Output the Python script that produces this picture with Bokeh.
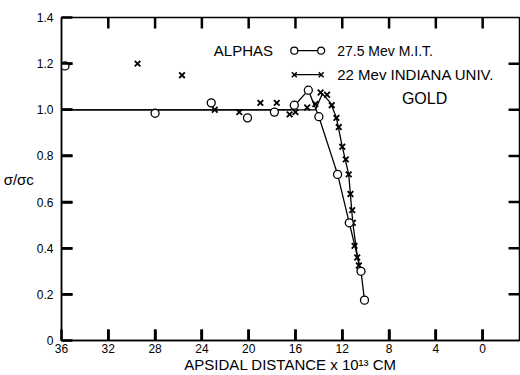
from bokeh.plotting import figure
from bokeh.models import Range1d, FixedTicker, Label
from bokeh.embed import file_html
from bokeh.resources import INLINE

# ---- data ----
x_ticks = [36, 32, 28, 24, 20, 16, 12, 8, 4, 0]
y_ticks = [0, 0.2, 0.4, 0.6, 0.8, 1.0, 1.2, 1.4]
y_tick_labels = ["0", "0.2", "0.4", "0.6", "0.8", "1.0", "1.2", "1.4"]

mit_x = [35.7, 28.0, 23.2, 20.1, 17.8, 16.1, 14.9, 14.0, 12.4, 11.4, 10.4, 10.1]
mit_y = [1.19, 0.985, 1.03, 0.965, 0.99, 1.02, 1.085, 0.97, 0.72, 0.51, 0.30, 0.175]

ind_x = [29.5, 25.7, 22.9, 20.8, 19.0, 17.6, 16.5, 16.0, 15.0, 14.3, 13.85, 13.3,
         12.9, 12.5, 12.3, 12.0, 11.7, 11.45, 11.3, 11.15, 11.1, 10.95, 10.72, 10.58, 10.44]
ind_y = [1.2, 1.15, 1.0, 0.99, 1.03, 1.03, 0.98, 0.99, 1.01, 1.025, 1.075, 1.065,
         1.02, 0.965, 0.925, 0.84, 0.785, 0.72, 0.635, 0.565, 0.51, 0.41, 0.36, 0.325, 0.30]

# hand-drawn curves through the data
mit_curve_x = [36, 16.4, 14.9, 14.0, 12.4, 11.4, 10.4, 10.1]
mit_curve_y = [1.0, 1.0, 1.085, 0.97, 0.72, 0.51, 0.30, 0.175]
ind_curve_x = [36, 14.3, 13.7, 13.0, 12.5, 12.0, 11.45, 11.1, 10.7, 10.44]
ind_curve_y = [1.0, 1.0, 1.07, 1.03, 0.965, 0.84, 0.72, 0.51, 0.36, 0.30]

X_START, X_END = 36, -3.15
Y_START, Y_END = 0, 1.4

FONT = "Liberation Sans"
W, H = 520, 375
BL, BR, BT, BB = 59, 1, 17, 34
FRAME_W, FRAME_H = W - BL - BR, H - BT - BB
TICK_PX = 11

p = figure(width=W, height=H, x_range=Range1d(X_START, X_END), y_range=Range1d(Y_START, Y_END),
           output_backend="svg", toolbar_location=None,
           min_border_left=BL, min_border_right=BR, min_border_top=BT, min_border_bottom=BB)
p.xgrid.grid_line_color = None
p.ygrid.grid_line_color = None
p.outline_line_color = "black"
p.outline_line_width = 1.5

for ax in (p.xaxis[0], p.yaxis[0]):
    ax.axis_line_color = "black"
    ax.axis_line_width = 1.5
    ax.major_tick_in = TICK_PX
    ax.major_tick_out = 0
    ax.major_tick_line_color = "black"
    ax.major_tick_line_width = 2.5
    ax.minor_tick_line_color = None
    ax.major_label_text_font = FONT
    ax.major_label_text_font_size = "12px"
    ax.major_label_text_color = "black"
    ax.axis_label_text_font = FONT
    ax.axis_label_text_font_style = "normal"
    ax.axis_label_text_color = "black"
    ax.axis_label_standoff = 0

xa = p.xaxis[0]
xa.ticker = FixedTicker(ticks=x_ticks)
xa.major_label_standoff = 3
xa.axis_label = "APSIDAL DISTANCE x 10¹³ CM"
xa.axis_label_text_font_size = "15px"

ya = p.yaxis[0]
ya.ticker = FixedTicker(ticks=y_ticks)
ya.major_label_standoff = 8
ya.major_label_overrides = {t: s for t, s in zip(y_ticks, y_tick_labels)}
ya.axis_label = "σ/σc"
ya.axis_label_orientation = "horizontal"
ya.axis_label_text_font_size = "15px"

# inward tick marks on all four sides, as segments reaching TICK_PX into the frame
dy = TICK_PX * (Y_END - Y_START) / FRAME_H
dx = TICK_PX * (X_START - X_END) / FRAME_W
xt = x_ticks[1:]
yt = y_ticks[1:-1]
seg_kw = dict(line_color="black", line_width=2.5)
p.segment(x0=xt, y0=[Y_START] * len(xt), x1=xt, y1=[Y_START + dy] * len(xt), **seg_kw)
p.segment(x0=xt, y0=[Y_END] * len(xt), x1=xt, y1=[Y_END - dy] * len(xt), **seg_kw)
p.segment(x0=[X_START] * len(yt), y0=yt, x1=[X_START - dx] * len(yt), y1=yt, **seg_kw)
p.segment(x0=[X_END] * len(yt), y0=yt, x1=[X_END + dx] * len(yt), y1=yt, **seg_kw)

# curves
p.line(mit_curve_x, mit_curve_y, line_color="black", line_width=1.3)
p.line(ind_curve_x, ind_curve_y, line_color="black", line_width=1.3)

# points
p.scatter(ind_x, ind_y, marker="x", size=8, line_color="black", line_width=1.8)
p.scatter(mit_x, mit_y, marker="circle", size=8, fill_color="white",
          line_color="black", line_width=1.3)

# legend (drawn)
leg_x = [16.1, 13.8]
p.line(leg_x, [1.256, 1.256], line_color="black", line_width=1.2)
p.scatter(leg_x, [1.256, 1.256], marker="circle", size=7, fill_color="white",
          line_color="black", line_width=1.2)
p.line(leg_x, [1.152, 1.152], line_color="black", line_width=1.2)
p.scatter(leg_x, [1.152, 1.152], marker="x", size=7, line_color="black", line_width=1.5)


def lab(x, y, text, size, align="left", baseline="middle", font=FONT):
    p.add_layout(Label(x=x, y=y, text=text, text_font=font, text_font_size=size,
                       text_align=align, text_baseline=baseline, text_color="black"))


lab(22.98, 1.256, "ALPHAS", "15px")
lab(12.43, 1.256, "27.5 Mev M.I.T.", "14px")
lab(12.43, 1.152, "22 Mev INDIANA UNIV.", "15px")
lab(6.9, 1.049, "GOLD", "16px")

open("out.html", "w").write(file_html(p, INLINE))
